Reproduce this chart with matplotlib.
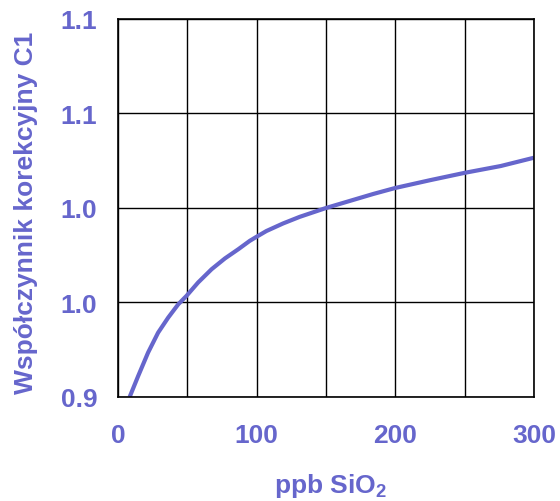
import matplotlib
matplotlib.use('Agg')
import matplotlib.pyplot as plt

plt.rcParams['font.family'] = ['Liberation Sans', 'DejaVu Sans']
plt.rcParams['mathtext.default'] = 'regular'

# Curve
ppb = [8.4, 14.5, 21.7, 28.9, 36.2, 43.4, 49.4, 57.8, 67.5, 77.1, 86.8, 95,
       100, 107, 119, 131, 150, 167, 184, 200, 225, 250, 276, 300]
c1 = [0.900, 0.911, 0.9235, 0.934, 0.942, 0.949, 0.9535, 0.9606, 0.9676,
      0.9733, 0.9782, 0.9826, 0.9848, 0.9878, 0.9918, 0.9953, 1.000, 1.0037,
      1.0074, 1.0106, 1.0147, 1.0186, 1.0222, 1.0266]

y_ticks = [0.90, 0.95, 1.00, 1.05, 1.10]
y_tick_labels = ['0.9', '1.0', '1.0', '1.1', '1.1']

color = '#6666CC'

fig = plt.figure(figsize=(5.6, 5.02), dpi=100)
ax = fig.add_axes([0.2107, 0.2072, 0.7429, 0.7530])

ax.plot(ppb, c1, color=color, linewidth=3, solid_capstyle='butt', solid_joinstyle='round')

ax.set_xlim(0, 300)
ax.set_ylim(0.9, 1.1)

# Grid every 50 ppb, labels every 100
ax.set_xticks(range(0, 301, 50))
ax.set_xticklabels(['' if v % 100 else str(v) for v in range(0, 301, 50)])
ax.set_yticks(y_ticks)
ax.set_yticklabels(y_tick_labels)
ax.grid(True, color='black', linewidth=1)
ax.set_axisbelow(True)

ax.tick_params(length=0, labelsize=19, labelcolor=color)
ax.tick_params(axis='x', pad=19)
ax.tick_params(axis='y', pad=15)
for lbl in ax.get_xticklabels() + ax.get_yticklabels():
    lbl.set_fontweight('bold')

for s in ax.spines.values():
    s.set_color('black')
    s.set_linewidth(1.2)

ax.set_xlabel(r'ppb SiO$_{2}$', fontsize=19, fontweight='bold', color=color)
ax.set_ylabel('Współczynnik korekcyjny C1', fontsize=19, fontweight='bold', color=color)
ax.xaxis.set_label_coords(0.51, -0.251)
ax.xaxis.label.set_verticalalignment('baseline')
ax.yaxis.set_label_coords(-0.2043, 0.491)
ax.yaxis.label.set_verticalalignment('baseline')

fig.savefig('out.png', dpi=100)
